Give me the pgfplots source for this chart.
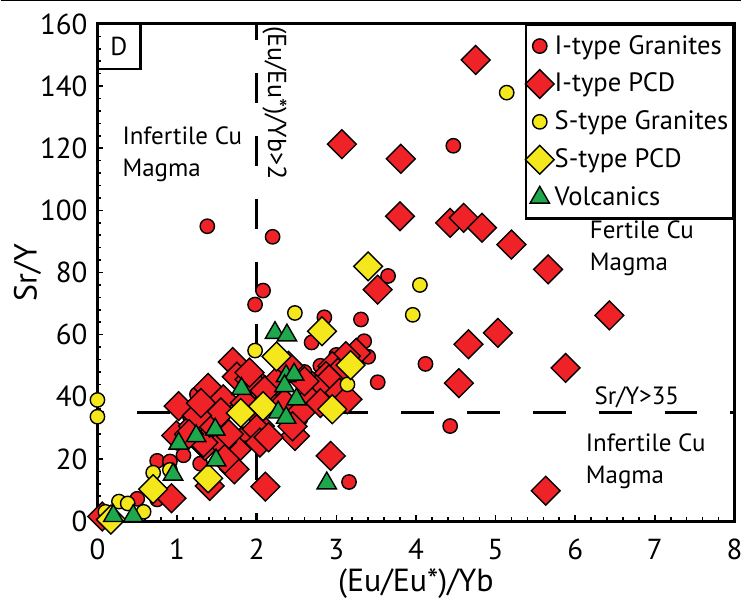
\documentclass[border=0pt]{standalone}
\usepackage{fontspec}
\setmainfont{PT Sans}
\usepackage{pgfplots}
\pgfplotsset{compat=1.18}
\usetikzlibrary{calc}
\definecolor{ired}{HTML}{EE2227}
\definecolor{syellow}{HTML}{F4E71C}
\definecolor{vgreen}{HTML}{1EA84B}
\pgfplotsset{mylegend/.style={legend image code/.code={%
  \begin{pgfinterruptboundingbox}\draw[##1] plot coordinates {(0cm,0cm)};\end{pgfinterruptboundingbox}%
  \path[draw=none, fill=none] (-5pt,0pt) (7pt,0pt);}}}
\begin{document}
\begin{tikzpicture}
\begin{axis}[
  name=ax,
  scale only axis,
  width=319pt, height=249pt,
  xmin=0, xmax=8, ymin=0, ymax=160,
  xtick={0,1,...,8}, ytick={0,20,...,160},
  minor x tick num=4, minor y tick num=4,
  xtick pos=left, ytick pos=left,
  tick align=inside,
  major tick length=3pt, minor tick length=2pt,
  axis line style={line width=1.5pt},
  tick style={line width=0.8pt, black},
  ticklabel style={font=\fontsize{14.5}{16}\selectfont},
  /pgf/number format/assume math mode=true,
  yticklabel style={xshift=-1.5pt},
  xticklabel style={yshift=-5.5pt},
  xlabel={(Eu/Eu*)/Yb}, ylabel={Sr/Y},
  label style={font=\fontsize{16}{18}\selectfont},
  xlabel style={at={(axis description cs:0.5,-0.126)}, anchor=center},
  ylabel style={at={(axis description cs:-0.110,0.5)}, anchor=center},
  clip=false,
  legend cell align=left,
  legend style={at={(1,1)}, anchor=north east, draw=black, line width=1.2pt,
    font=\fontsize{13.3}{15}\selectfont, inner xsep=2pt, inner ysep=3pt, row sep=4pt,
    nodes={inner xsep=0.5pt}},
]
% threshold lines
\addplot[forget plot, black, line width=1.2pt, dash pattern=on 15pt off 16.5pt, dash phase=7pt]
  coordinates {(2,160) (2,0)};
\addplot[forget plot, black, line width=1.2pt, dash pattern=on 16.5pt off 16.5pt, dash phase=13pt]
  coordinates {(0,35) (8,35)};

% I-type Granites
\addplot[only marks, mark=*, mark size=3.6pt, draw=black, fill=ired, line width=0.7pt, mylegend]
  coordinates {
  (1.38,94.9) (2.20,91.5) (2.08,74.2) (1.98,69.7) (2.85,65.6) (2.69,57.5)
  (3.31,64.9) (3.35,57.9) (3.40,52.9) (3.00,53.5) (3.52,44.7) (3.65,78.9)
  (4.47,120.8) (4.12,50.6) (4.43,30.6) (3.16,12.6) (3.16,38.7) (1.26,38.7)
  (1.25,40.8) (0.75,19.4) (0.91,19.2) (1.08,21.2) (1.29,18.5) (0.50,7.2)
  (0.75,7.0) (1.16,33.8) (1.90,40.0) (2.30,40.5) (2.60,48.0) (2.80,50.0)
  (2.05,45.0) (1.50,36.0) (2.55,33.0) (1.85,28.0)
  };
% I-type PCD
\addplot[only marks, mark=square*, mark size=5.1pt, mark options={rotate=45}, draw=black, fill=ired, line width=0.7pt, mylegend]
  coordinates {
  (4.75,148.4) (3.07,121.3) (3.81,116.6) (3.80,98.1) (4.43,96.0) (4.60,97.6)
  (4.83,94.4) (5.20,89.0) (5.66,81.0) (3.52,74.5) (6.43,66.2) (5.03,60.6)
  (4.66,56.9) (5.88,49.3) (4.54,44.4) (5.63,9.8) (2.93,21.0) (2.11,11.1)
  (2.48,27.4) (3.25,54.2) (3.12,53.1) (2.95,49.9) (3.02,47.8) (2.87,46.7)
  (2.91,45.6) (2.70,43.5) (2.75,42.4) (3.04,41.3) (3.14,39.2) (2.66,39.2)
  (1.70,51.2) (1.75,46.5) (1.39,42.9) (1.91,45.6) (1.58,39.2) (1.02,37.0)
  (1.91,47.8) (0.99,27.6) (1.20,30.6) (1.48,30.2) (1.75,23.1) (1.72,16.7)
  (0.93,7.4) (1.35,24.2) (1.56,25.3) (2.04,30.6) (2.00,34.9) (2.00,29.6)
  (2.04,25.3) (1.33,25.3) (1.41,31.7) (1.41,11.3) (0.06,1.5) (2.20,40.0)
  (2.35,38.0) (2.55,35.0) (2.45,30.5) (2.25,45.0) (2.10,42.0) (1.55,35.0)
  (1.25,34.0) (1.15,28.0) (1.60,20.0) (1.85,38.0) (2.40,50.0) (2.60,45.0)
  (2.80,38.0) (1.30,38.0) (1.65,28.0) (2.15,27.0)
  };
% S-type Granites
\addplot[only marks, mark=*, mark size=3.6pt, draw=black, fill=syellow, line width=0.7pt, mylegend]
  coordinates {
  (5.14,137.9) (4.05,76.0) (3.96,66.4) (2.48,67.0) (1.98,54.9) (0.0,39.0)
  (0.0,33.6) (0.70,15.6) (0.91,16.5) (0.27,6.3) (0.38,5.7) (0.58,3.0)
  (0.10,3.0) (3.14,44.0)
  };
% S-type PCD
\addplot[only marks, mark=square*, mark size=5.1pt, mark options={rotate=45}, draw=black, fill=syellow, line width=0.7pt, mylegend]
  coordinates {
  (3.40,82.0) (2.82,61.1) (2.25,53.0) (3.18,50.2) (2.08,37.0) (1.80,34.8)
  (2.95,36.0) (1.39,13.8) (0.70,10.3) (0.17,0.5)
  };
% Volcanics
\addplot[only marks, mark=triangle*, mark size=5.6pt, draw=black, fill=vgreen, line width=0.7pt, mylegend]
  coordinates {
  (2.23,60.6) (2.38,59.8) (2.37,46.7) (2.47,47.2) (2.35,43.5) (2.50,39.2)
  (2.27,35.0) (2.37,33.3) (1.81,42.6) (1.48,29.5) (1.24,27.4) (1.02,25.0)
  (1.49,19.6) (0.95,15.0) (0.20,1.7) (0.45,1.7) (2.88,12.2)
  };
\legend{I-type Granites, I-type PCD, S-type Granites, S-type PCD, Volcanics}

% annotations
\draw[line width=1.2pt] (axis cs:0,145.5) -- (axis cs:0.54,145.5) -- (axis cs:0.54,160);
\node[font=\fontsize{13}{15}\selectfont] at (axis cs:0.27,152.8) {D};
\node[font=\fontsize{13}{15}\selectfont, rotate=-90] at (axis cs:2.225,134.6) {(Eu/Eu*)/Yb>2};
\node[font=\fontsize{12.5}{16}\selectfont, align=left, anchor=west, inner sep=0pt] at (axis cs:0.31,118.2) {Infertile Cu\\Magma};
\node[font=\fontsize{12.5}{16}\selectfont, align=left, anchor=west, inner sep=0pt] at (axis cs:6.18,87.7) {Fertile Cu\\Magma};
\node[font=\fontsize{12.5}{14}\selectfont, anchor=west, inner sep=0pt] at (axis cs:6.24,39.8) {Sr/Y>35};
\node[font=\fontsize{12.5}{16}\selectfont, align=left, anchor=west, inner sep=0pt] at (axis cs:6.13,19.2) {Infertile Cu\\Magma};
\end{axis}
\pgfresetboundingbox
\path ($(ax.south west)+(-48.5pt,-40pt)$) rectangle ($(ax.north east)+(3.5pt,12pt)$);
\draw[line width=0.6pt] ($(ax.north west)+(-48.5pt,11.6pt)$) -- ($(ax.north east)+(3.5pt,11.6pt)$);
\end{tikzpicture}
\end{document}
